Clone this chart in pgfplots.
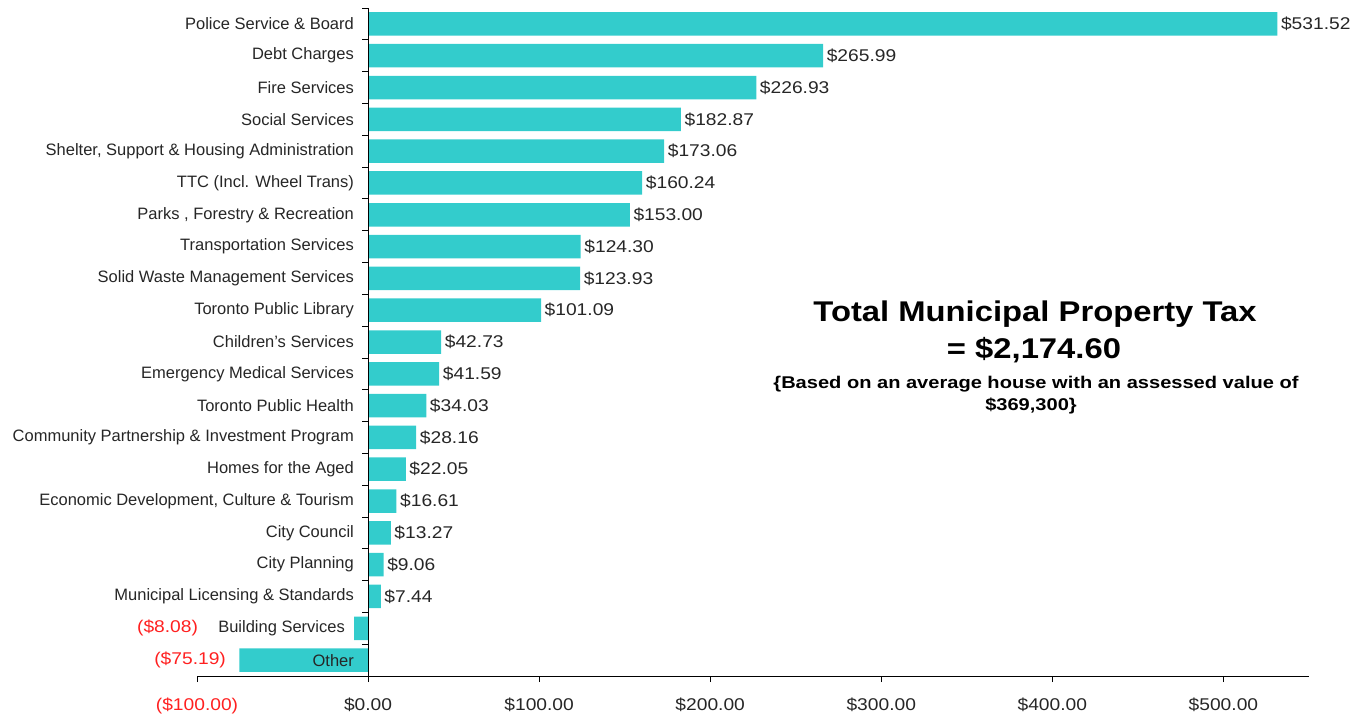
\documentclass[border=0pt]{standalone}
\usepackage{pgfplots}
\pgfplotsset{compat=1.18}
\usepackage{pgfplotstable}
\usepackage{fontspec}
\setmainfont{Liberation Sans}
\newfontfamily\numfont[FakeStretch=1.13]{Liberation Sans}
\newfontfamily\titlefont[FakeStretch=1.15]{Liberation Sans}
\newfontfamily\subfont[FakeStretch=1.18]{Liberation Sans}
\definecolor{barcol}{HTML}{33CCCC}
\definecolor{txt}{HTML}{262626}
\definecolor{negred}{HTML}{FF2020}

\pgfplotstableread{
y val
2 7.44
3 9.06
4 13.27
5 16.61
6 22.05
7 28.16
8 34.03
9 41.59
10 42.73
11 101.09
12 123.93
13 124.30
14 153.00
15 160.24
16 173.06
17 182.87
18 226.93
19 265.99
20 531.52
}\posdata

\pgfplotstableread{
y val
0 -75.19
1 -8.08
}\negdata

\begin{document}
\begin{tikzpicture}
\path (0pt,0pt) rectangle (1362pt,-715pt);
\begin{axis}[
  at={(197pt,-676pt)}, anchor=south west,
  scale only axis, width=1112pt, height=668pt,
  xmin=-100, xmax=550, ymin=-0.5, ymax=20.5,
  axis x line=bottom, axis y line=center,
  axis line style={-, black, line width=0.8pt},
  axis on top, clip=false,
  xtick={-100,0,100,200,300,400,500},
  xticklabels={\textcolor{negred}{(\$100.00)},\$0.00,\$100.00,\$200.00,\$300.00,\$400.00,\$500.00},
  xticklabel style={font=\numfont\fontsize{17}{20}\selectfont, text=txt, yshift=-12pt},
  xtick align=outside,
  major tick length=6pt,
  major x tick style={black, line width=0.8pt},
  ytick={0,...,20},
  yticklabels={Other,Building Services\kern9pt,Municipal Licensing \& Standards,City Planning,City Council,{Economic Development, Culture \& Tourism},Homes for the Aged,Community Partnership \& Investment Program,Toronto Public Health,Emergency Medical Services,Children's Services,Toronto Public Library,Solid Waste Management Services,Transportation Services,{Parks , Forestry \& Recreation},TTC (Incl. Wheel Trans),{Shelter, Support \& Housing Administration},Social Services,Fire Services,Debt Charges,Police Service \& Board},
  yticklabel style={font=\fontsize{16.5}{19}\selectfont, text=txt, anchor=east, inner sep=0pt, xshift=-8pt},
  major y tick style={draw=none},
  minor ytick={-0.5,0.5,...,20.5},
  minor y tick style={black, line width=0.8pt},
  minor tick length=6pt,
  ytick align=outside,
]
\addplot[xbar, bar shift=0pt, bar width=23.5pt, fill=barcol, draw=none,
  point meta=x,
  nodes near coords={\$\pgfmathprintnumber[fixed,fixed zerofill,precision=2,assume math mode=true]{\pgfplotspointmeta}},
  nodes near coords style={font=\numfont\fontsize{17}{20}\selectfont, text=txt, anchor=west, inner xsep=3.5pt}
] table[x=val,y=y] {\posdata};
\addplot[xbar, bar shift=0pt, bar width=23.5pt, fill=barcol, draw=none] table[x=val,y=y] {\negdata};
\node[anchor=east, inner sep=0pt, text=negred, font=\numfont\fontsize{17}{20}\selectfont] at (axis cs:-99.3,1) {(\$8.08)};
\node[anchor=east, inner sep=0pt, text=negred, font=\numfont\fontsize{17}{20}\selectfont] at (axis cs:-83,0) {(\$75.19)};
\end{axis}
\node[anchor=base, inner sep=0pt, font=\titlefont\bfseries\fontsize{28.5}{32}\selectfont] at (1035pt,-321pt) {Total Municipal Property Tax};
\node[anchor=base, inner sep=0pt, font=\titlefont\bfseries\fontsize{28.5}{32}\selectfont] at (1034pt,-358pt) {= \$2,174.60};
\node[anchor=base, inner sep=0pt, font=\subfont\bfseries\fontsize{17}{20}\selectfont] at (1036pt,-388pt) {\{Based on an average house with an assessed value of};
\node[anchor=base, inner sep=0pt, font=\subfont\bfseries\fontsize{17}{20}\selectfont] at (1031pt,-410pt) {\$369,300\}};
\end{tikzpicture}
\end{document}
